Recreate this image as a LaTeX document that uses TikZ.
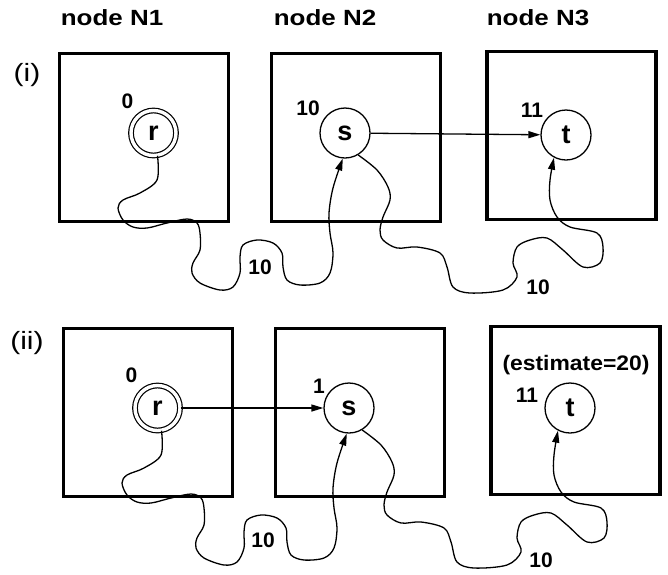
\documentclass[tikz,border=0pt]{standalone}
\usepackage{fontspec}
\setmainfont{Liberation Sans}
\usetikzlibrary{arrows.meta}
\newcommand{\widen}[2][1.18]{\scalebox{#1}[1]{#2}}
\tikzset{
 box/.style={draw, line width=3.6pt, minimum width=169pt, minimum height=168pt, inner sep=0pt},
 vert/.style={draw, circle, minimum size=50pt, inner sep=0pt, line width=1.3pt, font=\fontsize{27}{29}\selectfont\bfseries},
 root/.style={vert, minimum size=45pt, double, double distance=3.4pt, line width=1.2pt},
 head/.style={font=\fontsize{22}{26}\selectfont\bfseries, inner sep=0pt},
 rowlab/.style={font=\fontsize{25}{30}\selectfont, inner sep=0pt},
 num/.style={font=\fontsize{21}{24}\selectfont\bfseries, inner sep=0pt},
 wave/.style={line width=1.3pt, -{Triangle[length=12pt,width=7pt]}},
 link/.style={line width=1.3pt, -{Triangle[length=12pt,width=7pt]}},
}
\begin{document}
\begin{tikzpicture}[x=1pt,y=-1pt]
\useasboundingbox (0,0) rectangle (668,574);
% headings
\node[head] (h1) at (112,18) {\widen{node N1}};
\node[head] (h2) at (325,18) {\widen{node N2}};
\node[head] (h3) at (538,18) {\widen{node N3}};
% ---------- row (i)
\node[rowlab] (lab1) at (27,75) {\widen[1.2]{(i)}};
\node[box] (b11) at (144,137.5) {};
\node[box] (b12) at (356,137.5) {};
\node[box] (b13) at (571.5,135.5) {};
\node[root] (r1) at (153.5,133) {r};
\node[vert] (s1) at (345,133) {s};
\node[vert] (t1) at (566,135) {t};
\node[num] (nr1) at (127.5,101) {0};
\node[num, anchor=east] (ns1) at (320,108) {10};
\node[num] (nt1) at (532,110) {11};
\node[num] (w11) at (260,267) {10};
\node[num] (w12) at (538,287) {10};
\draw[link] (s1) -- (t1);
\draw[wave] plot[smooth, tension=0.55] coordinates {(r1.-80) (157,180) (140,193) (123,200) (118,208) (123,220) (133,227) (147,228) (167,223) (187,219) (197,223) (200,233) (200,250) (193,263) (192,273) (200,283) (220,290) (233,287) (240,273) (240,257) (243,245) (257,240) (273,243) (282,253) (283,267) (287,280) (300,285) (320,283) (330,273) (333,253) (330,233) (329,213) (333,188) (s1.265)};
\draw[wave] plot[smooth, tension=0.55] coordinates {(s1.-59) (377,170) (388,187) (390,200) (383,217) (380,230) (383,240) (397,248) (417,247) (440,253) (447,267) (453,287) (470,293) (503,290) (517,277) (513,263) (517,247) (530,240) (547,238) (563,250) (583,267) (600,263) (603,247) (597,233) (570,227) (557,217) (550,200) (550,180) (t1.242)};
% ---------- row (ii)
\node[rowlab] (lab2) at (27,343) {\widen[1.2]{(ii)}};
\begin{scope}[shift={(4,275)}]
\node[box] (b21) at (144,137.5) {};
\node[box] (b22) at (356,137.5) {};
\node[box] (b23) at (571.5,135.5) {};
\node[root] (r2) at (153.5,133) {r};
\node[vert] (s2) at (345,133) {s};
\node[vert] (t2) at (566,133) {t};
\node[num] (nr2) at (127.5,100) {0};
\node[num, anchor=east] (ns2) at (321,111) {1};
\node[num] (nt2) at (523,120) {11};
\node[num] (est) at (572,90) {\widen[1.09]{(estimate=20)}};
\node[num] (w21) at (259,265) {10};
\node[num] (w22) at (537,285) {10};
\draw[link] (r2) -- (s2);
\draw[wave] plot[smooth, tension=0.55] coordinates {(r2.-80) (157,180) (140,193) (123,200) (118,208) (123,220) (133,227) (147,228) (167,223) (187,219) (197,223) (200,233) (200,250) (193,263) (192,273) (200,283) (220,290) (233,287) (240,273) (240,257) (243,245) (257,240) (273,243) (282,253) (283,267) (287,280) (300,285) (320,283) (330,273) (333,253) (330,233) (329,213) (333,188) (s2.265)};
\draw[wave] plot[smooth, tension=0.55] coordinates {(s2.-59) (377,170) (388,187) (390,200) (383,217) (380,230) (383,240) (397,248) (417,247) (440,253) (447,267) (453,287) (470,293) (503,290) (517,277) (513,263) (517,247) (530,240) (547,238) (563,250) (583,267) (600,263) (603,247) (597,233) (570,227) (557,217) (550,200) (550,180) (t2.242)};
\end{scope}
\end{tikzpicture}
\end{document}
